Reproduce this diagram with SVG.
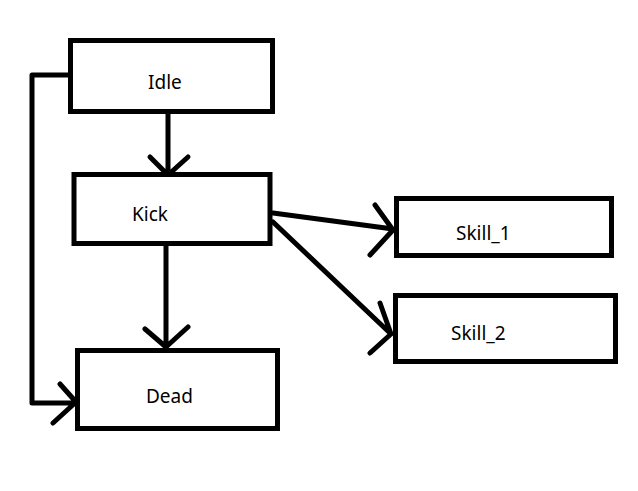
<svg xmlns="http://www.w3.org/2000/svg" width="638" height="491" viewBox="0 0 638 491">
<style>
.box{fill:#fff;stroke:#000;stroke-width:5}
.lbl{font-family:"Noto Sans","Liberation Sans",sans-serif;font-size:19px;fill:#000}
.con{fill:none;stroke:#000;stroke-width:5;stroke-linecap:round;stroke-linejoin:round}
</style>
<rect width="638" height="491" fill="#fff"/>
<g id="connectors">
<path class="con" d="M168,114 V175 M150,157 L168,175 L188,157"/>
<path class="con" d="M166,246 V347 M145,329 L166,347 L188,327"/>
<path class="con" d="M68,75 H32 V403 H77 M60,384 L76,402 L53,423"/>
<path class="con" d="M273,213 L393,229 M375,205 L393,230 L370,255"/>
<path class="con" d="M273,222 L391,334 M380,303 L391,334 L370,353"/>
</g>
<g id="idle"><rect class="box" x="70.5" y="40.5" width="202" height="71"/><text class="lbl" x="148" y="89">Idle</text></g>
<g id="kick"><rect class="box" x="74" y="174.5" width="196" height="69"/><text class="lbl" x="132" y="221">Kick</text></g>
<g id="dead"><rect class="box" x="77.5" y="350.5" width="200" height="78"/><text class="lbl" x="146" y="403">Dead</text></g>
<g id="skill1"><rect class="box" x="396.5" y="198.5" width="215" height="57"/><text class="lbl" x="456" y="240">Skill_1</text></g>
<g id="skill2"><rect class="box" x="395.5" y="295.5" width="220" height="66"/><text class="lbl" x="451" y="340">Skill_2</text></g>
</svg>
